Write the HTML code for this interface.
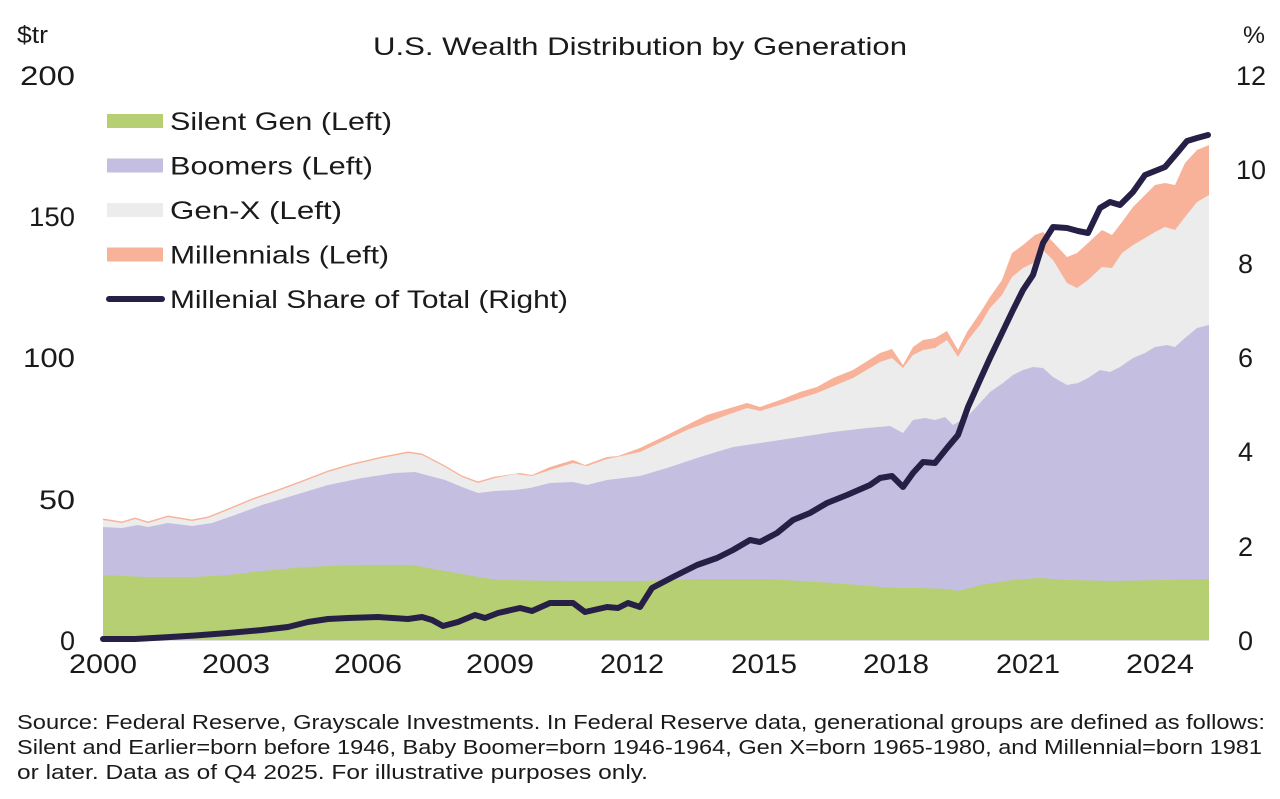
<!DOCTYPE html>
<html>
<head>
<meta charset="utf-8">
<style>
  html, body { margin:0; padding:0; background:#ffffff; }
  body { width:1280px; height:799px; overflow:hidden; }
  svg { display:block; }
  text { font-family:"Liberation Sans", Arial, sans-serif; fill:#1a1a1a; }
</style>
</head>
<body>
<svg width="1280" height="799" viewBox="0 0 1280 799" xmlns="http://www.w3.org/2000/svg">
  <!-- header -->
  <text x="17" y="43" font-size="24" textLength="31" lengthAdjust="spacingAndGlyphs">$tr</text>
  <text x="1243" y="43" font-size="24" textLength="22" lengthAdjust="spacingAndGlyphs">%</text>
  <text x="640" y="55" font-size="25" text-anchor="middle" textLength="534" lengthAdjust="spacingAndGlyphs">U.S. Wealth Distribution by Generation</text>

  <!-- Millennials (orange) -->
  <polygon fill="#f8b29a" points="103,640 103,518.5 122,521.5 135,517.5 148,521.5 168,515.5 192,519.5 208,516.5 228,508.5 252,498.5 275,490.5 302,480.5 328,470.5 352,463.5 382,456.5 408,451.5 422,453.5 445,465.5 462,475.5 478,481.5 495,476.5 500,476 520,473 532,475 550,467 573,460 585,465 607,457 618,456 640,448 667,435 687,425 707,415 727,409 747,403 760,407 780,400 800,392 817,387 833,378 853,370 880,353 892,349 903,365 913,347 923,340 935,338 947,331 958,350 967,332 980,313 990,297 1002,280 1012,253 1023,245 1035,235 1043,232 1053,242 1067,257 1077,253 1088,243 1102,230 1112,235 1122,222 1133,207 1143,197 1155,185 1165,183 1175,185 1185,163 1197,150 1209,145 1209,640"/>
  <!-- Gen-X (grey) -->
  <polygon fill="#ececec" points="103,640 103,520 122,523 135,519 148,523 168,517 192,521 208,518 228,510 252,500 275,492 302,482 328,472 352,465 382,458 408,453 422,455 445,467 462,477 478,483 495,478 515,474 532,476 550,470 573,463 587,466 607,459 640,452 687,430 727,415 747,408 760,411 780,405 817,393 853,378 880,362 892,358 903,368 913,355 923,350 935,348 947,340 958,357 968,340 980,325 990,308 1002,295 1012,277 1023,268 1033,263 1043,250 1053,260 1067,283 1077,288 1088,280 1102,267 1112,268 1122,253 1133,245 1145,238 1155,232 1165,227 1175,230 1185,217 1197,202 1209,195 1209,640"/>
  <!-- Boomers (purple) -->
  <polygon fill="#c4bee1" points="103,640 103,527 122,528 138,525 148,527 168,523 192,526 212,523 235,515 262,505 295,495 328,485 362,478 395,473 415,472 445,480 462,487 478,493 495,491 515,490 530,488 550,483 573,482 587,485 607,480 640,476 667,468 700,457 733,447 767,442 800,437 833,432 867,428 890,426 903,433 913,420 925,418 935,420 945,417 953,425 967,417 980,403 990,392 1003,383 1013,375 1023,370 1033,367 1043,368 1053,377 1067,385 1078,383 1088,378 1100,370 1110,372 1120,367 1133,358 1145,353 1155,347 1167,345 1175,347 1185,338 1197,328 1209,325 1209,640"/>
  <!-- Silent Gen (green) -->
  <polygon fill="#b7cf73" points="103,640 103,575 125,576 145,577 195,577 228,575 262,571 295,568 328,566 362,565 412,565 445,571 478,577 500,580 567,581 640,581 700,579 767,579 833,583 883,587 900,588 920,588 947,589 958,591 980,585 1013,580 1040,578 1067,580 1113,581 1163,580 1209,579 1209,640"/>

  <!-- baseline -->
  <line x1="103" y1="640.5" x2="1209" y2="640.5" stroke="#dedede" stroke-width="1"/>

  <!-- Millennial share line -->
  <polyline fill="none" stroke="#262047" stroke-width="6" stroke-linejoin="round" stroke-linecap="round" points="103,639 135,639 162,637.5 195,635.5 228,633 262,630 288,627 308,622 328,619 348,618 378,617 408,619 422,617 432,620 443,626 458,622 475,615 485,618 498,613 520,608 532,611 550,603 573,603 585,612 607,607 618,608 628,603 640,607 652,588 673,577 697,565 717,558 733,550 750,540 760,542 777,533 793,520 810,513 827,503 847,495 870,485 880,478 892,476 903,487 913,473 923,462 935,463 947,448 958,435 968,407 980,380 990,358 1002,333 1013,310 1023,290 1033,275 1043,243 1053,227 1067,228 1078,231 1088,233 1100,208 1110,202 1120,205 1133,192 1145,175 1155,171 1165,167 1177,153 1187,141 1197,138 1208,135"/>

  <!-- left axis labels -->
  <g font-size="27" text-anchor="end">
    <text x="75" y="85" textLength="55" lengthAdjust="spacingAndGlyphs">200</text>
    <text x="75" y="226" textLength="46" lengthAdjust="spacingAndGlyphs">150</text>
    <text x="75" y="367" textLength="52" lengthAdjust="spacingAndGlyphs">100</text>
    <text x="75" y="509" textLength="36" lengthAdjust="spacingAndGlyphs">50</text>
    <text x="75" y="650">0</text>
  </g>
  <!-- right axis labels -->
  <g font-size="27" text-anchor="start">
    <text x="1236" y="85">12</text>
    <text x="1236" y="179">10</text>
    <text x="1238" y="273">8</text>
    <text x="1238" y="367">6</text>
    <text x="1238" y="461">4</text>
    <text x="1238" y="556">2</text>
    <text x="1238" y="650">0</text>
  </g>
  <!-- x axis labels -->
  <g font-size="27" text-anchor="middle">
    <text x="103" y="673" textLength="68" lengthAdjust="spacingAndGlyphs">2000</text>
    <text x="236" y="673" textLength="68" lengthAdjust="spacingAndGlyphs">2003</text>
    <text x="368" y="673" textLength="68" lengthAdjust="spacingAndGlyphs">2006</text>
    <text x="500" y="673" textLength="68" lengthAdjust="spacingAndGlyphs">2009</text>
    <text x="632" y="673" textLength="64" lengthAdjust="spacingAndGlyphs">2012</text>
    <text x="764" y="673" textLength="66" lengthAdjust="spacingAndGlyphs">2015</text>
    <text x="896" y="673" textLength="66" lengthAdjust="spacingAndGlyphs">2018</text>
    <text x="1028" y="673" textLength="64" lengthAdjust="spacingAndGlyphs">2021</text>
    <text x="1160" y="673" textLength="68" lengthAdjust="spacingAndGlyphs">2024</text>
  </g>

  <!-- legend -->
  <rect x="107" y="114" width="56" height="14" fill="#b7cf73"/>
  <rect x="107" y="158.5" width="56" height="14" fill="#c4bee1"/>
  <rect x="107" y="203" width="56" height="14" fill="#ececec"/>
  <rect x="107" y="247.5" width="56" height="14" fill="#f8b29a"/>
  <line x1="109" y1="299" x2="162" y2="299" stroke="#262047" stroke-width="6" stroke-linecap="round"/>
  <g font-size="25">
    <text x="170" y="130" textLength="222" lengthAdjust="spacingAndGlyphs">Silent Gen (Left)</text>
    <text x="170" y="174.5" textLength="203" lengthAdjust="spacingAndGlyphs">Boomers (Left)</text>
    <text x="170" y="219" textLength="172" lengthAdjust="spacingAndGlyphs">Gen-X (Left)</text>
    <text x="170" y="263.5" textLength="219" lengthAdjust="spacingAndGlyphs">Millennials (Left)</text>
    <text x="170" y="308" textLength="398" lengthAdjust="spacingAndGlyphs">Millenial Share of Total (Right)</text>
  </g>

  <!-- footer -->
  <g font-size="20">
    <text x="17" y="729" textLength="1248" lengthAdjust="spacingAndGlyphs">Source: Federal Reserve, Grayscale Investments. In Federal Reserve data, generational groups are defined as follows:</text>
    <text x="17" y="754" textLength="1245" lengthAdjust="spacingAndGlyphs">Silent and Earlier=born before 1946, Baby Boomer=born 1946-1964, Gen X=born 1965-1980, and Millennial=born 1981</text>
    <text x="17" y="779" textLength="631" lengthAdjust="spacingAndGlyphs">or later. Data as of Q4 2025. For illustrative purposes only.</text>
  </g>
</svg>
</body>
</html>
